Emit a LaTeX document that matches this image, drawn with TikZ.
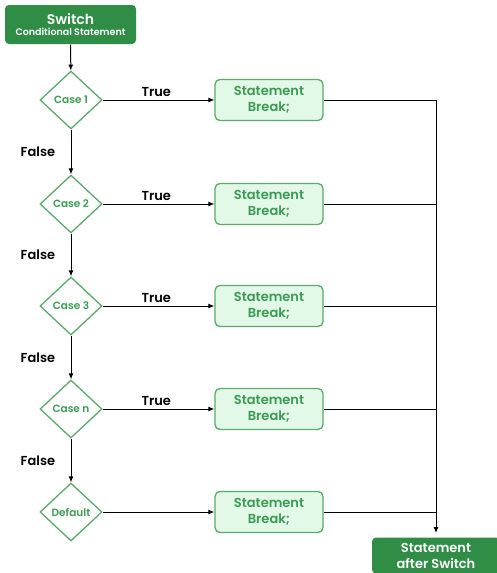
\documentclass[tikz,border=0pt]{standalone}
\usepackage{fontspec}
\setmainfont{Poppins}[BoldFont={Poppins SemiBold}]
\usetikzlibrary{shapes.geometric, arrows.meta, positioning}
\definecolor{darkgrn}{HTML}{2F8D46}
\definecolor{lightgrn}{HTML}{E1F9E6}
\definecolor{midgrn}{HTML}{5BAA6C}
\definecolor{txtgrn}{HTML}{3B9B53}

\begin{document}
\begin{tikzpicture}[x=1pt, y=-1pt, >={Latex[length=6pt,width=5pt]}, line width=1pt,
  casebox/.style={draw=midgrn, diamond, line width=1.3pt, minimum width=62pt, minimum height=58pt, inner sep=0pt, text=txtgrn, font=\bfseries\fontsize{10.5}{12}\selectfont},
  stmtbox/.style={draw=midgrn, fill=lightgrn, line width=1.3pt, rounded corners=5pt, minimum width=108pt, minimum height=41pt, inner sep=1pt, align=center, text=txtgrn, font=\bfseries\fontsize{13}{16}\selectfont},
  darkbox/.style={fill=darkgrn, rounded corners=4pt, inner sep=1pt, align=center, text=white},
  lbl/.style={font=\bfseries\fontsize{13}{14}\selectfont}]
\useasboundingbox (0,0) rectangle (497,573);

\node (top) [darkbox, minimum width=131pt, minimum height=39pt] at (70.5,24.5)
  {{\fontsize{14}{15}\selectfont\bfseries Switch}\\[-1pt]{\fontsize{9.5}{10}\selectfont\bfseries Conditional Statement}};

\node (c1) [casebox] at (71,100) {Case 1};
\node (c2) [casebox] at (71,204) {Case 2};
\node (c3) [casebox] at (71,306) {Case 3};
\node (c4) [casebox] at (71,409) {Case n};
\node (c5) [casebox] at (71,512) {Default};

\node (s1) [stmtbox] at (269,100) {Statement\\Break;};
\node (s2) [stmtbox] at (269,204) {Statement\\Break;};
\node (s3) [stmtbox] at (269,306) {Statement\\Break;};
\node (s4) [stmtbox] at (269,409) {Statement\\Break;};
\node (s5) [stmtbox] at (269,512) {Statement\\Break;};

\node (fin) [darkbox, minimum width=128pt, minimum height=36pt, anchor=north,
  font=\bfseries\fontsize{13}{16}\selectfont] at (436,537) {Statement\\after Switch};

% joins on the right
\coordinate (j1) at (436,100);
\coordinate (j2) at (436,204);
\coordinate (j3) at (436,306);
\coordinate (j4) at (436,409);
\coordinate (j5) at (436,512);

\draw[->] (top) -- (c1);
\foreach \a/\b in {c1/c2, c2/c3, c3/c4, c4/c5}
  \draw[->] (\a) -- node[lbl, left=12pt] {False} (\b);
\foreach \i in {1,...,4}
  \draw[->] (c\i) -- node[lbl, above, pos=0.48] {True} (s\i);
\draw[->] (c5) -- (s5);
\foreach \i in {1,...,5}
  \draw (s\i) -- (j\i);
\draw[->, shorten >=4pt] (j1) -- (fin);
\end{tikzpicture}
\end{document}
